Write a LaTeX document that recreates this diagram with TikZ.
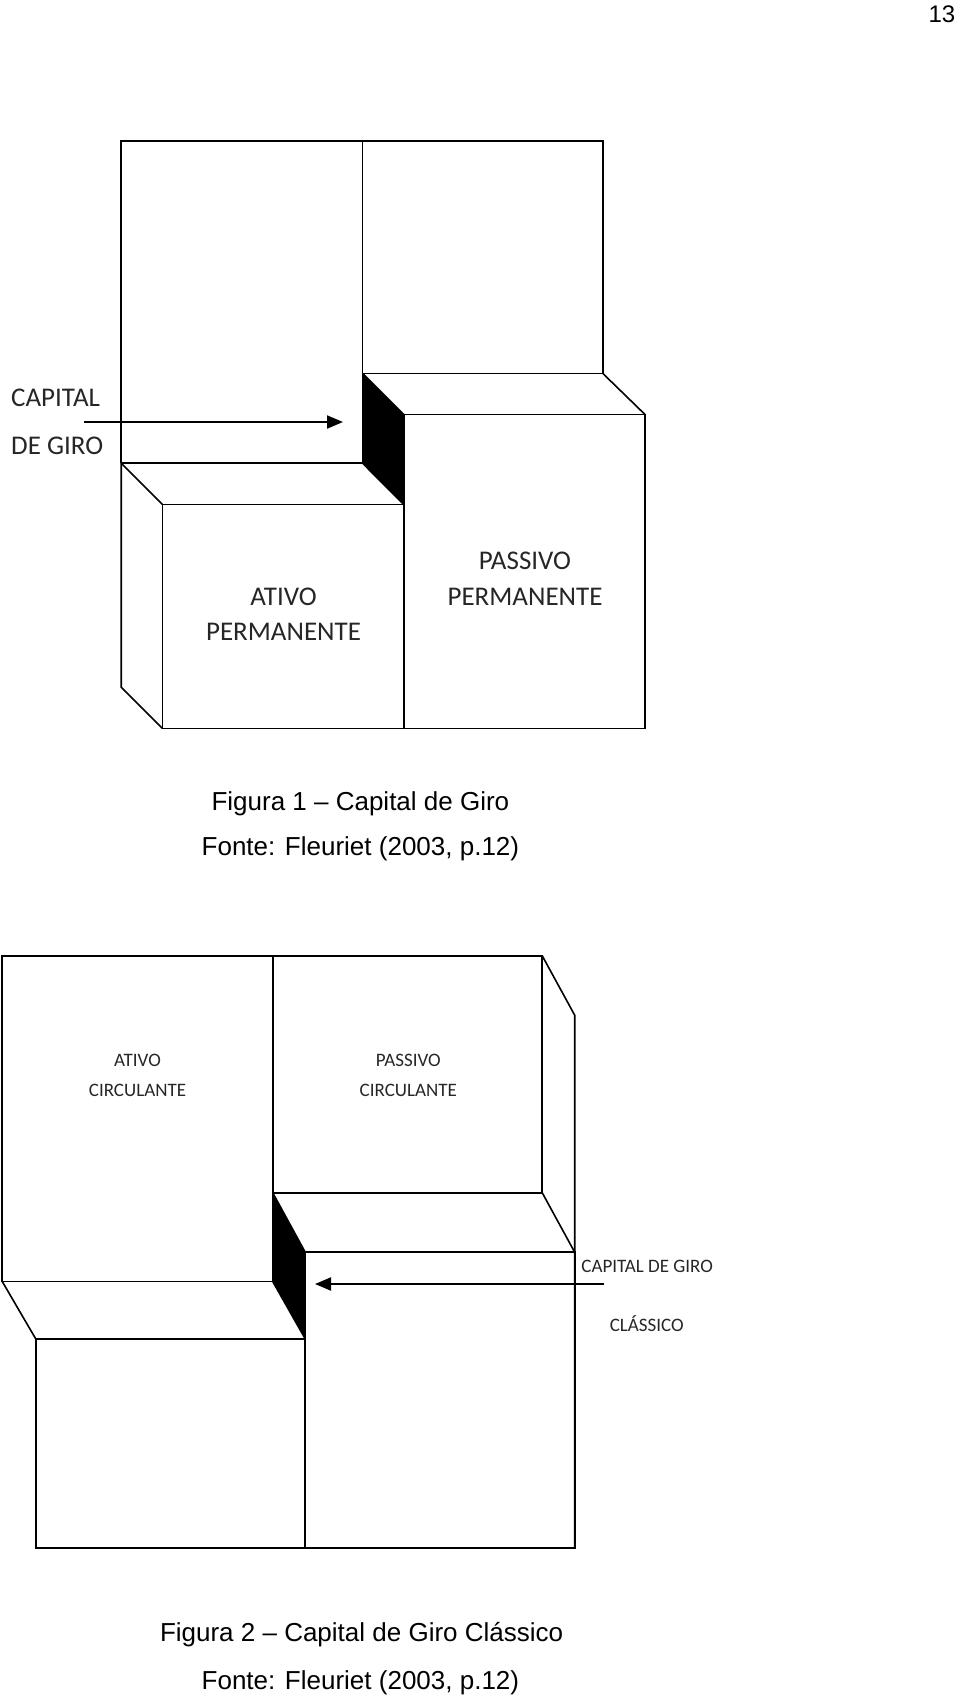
\documentclass[tikz,border=0pt]{standalone}
\usepackage{fontspec}
\setmainfont{Liberation Sans}
\newfontfamily\calib{Carlito}
\usetikzlibrary{arrows.meta}
\begin{document}
\begin{tikzpicture}[x=0.5pt,y=-0.5pt,line join=miter,
  edge/.style={draw=black,line width=0.8pt},
  solid face/.style={fill=black},
  biglbl/.style={font=\calib\fontsize{13.5}{16}\selectfont,text=black!85,inner sep=0,anchor=base},
  smalllbl/.style={font=\calib\fontsize{9.5}{11}\selectfont,text=black!85,inner sep=0,anchor=base},
  captxt/.style={font=\fontsize{13}{16}\selectfont,inner sep=0,anchor=base},
  arr/.style={line width=1pt,-{Triangle[length=8pt,width=6.5pt]}}]
\useasboundingbox (0,0) rectangle (960,1698);

% page number
\node[font=\fontsize{12}{14}\selectfont,inner sep=0,anchor=base east] (pg) at (955.6,22) {13};

% ---------------- Figure 1 ----------------
\fill[solid face] (362.6,373.4) -- (403.7,414.5) -- (403.7,504.4) -- (362.6,463.2) -- cycle;
\draw[edge] (121.2,463.2) -- (121.2,140.7) -- (602.8,140.7) -- (602.8,373.4);
\draw[edge] (362.6,140.7) -- (362.6,463.2);
\draw[edge] (121.2,463.2) -- (362.6,463.2);
\draw[edge] (362.6,373.4) -- (602.8,373.4);
\draw[edge] (362.6,373.4) -- (403.7,414.5);
\draw[edge] (602.8,373.4) -- (645,414.5);
\draw[edge] (403.7,414.5) rectangle (645,728.4);
\draw[edge] (121.2,463.2) -- (162.3,504.4);
\draw[edge] (362.6,463.2) -- (403.7,504.4);
\draw[edge] (162.3,504.4) rectangle (403.7,728.4);
\draw[edge] (121.2,463.2) -- (121.2,687.3) -- (162.3,728.4);

\node[biglbl,anchor=base west] (cap1a) at (10.8,406.7) {CAPITAL};
\node[biglbl,anchor=base west] (cap1b) at (10.8,454.7) {DE GIRO};
\coordinate (a1s) at (84.4,422);
\coordinate (a1e) at (343,422);
\draw[arr] (a1s) -- (a1e);

\node[biglbl] (ap1) at (283.5,605) {ATIVO};
\node[biglbl] (ap2) at (283.5,640.7) {PERMANENTE};
\node[biglbl] (pp1) at (525,569.3) {PASSIVO};
\node[biglbl] (pp2) at (525,605) {PERMANENTE};

\node[captxt] (f1a) at (360.4,810.3) {Figura 1 -- Capital de Giro};
\node[captxt] (f1b) at (360.4,855.7) {Fonte: Fleuriet (2003, p.12)};

% ---------------- Figure 2 ----------------
\fill[solid face] (272.7,1192.7) -- (305.2,1252.2) -- (305.2,1338.8) -- (272.7,1281.4) -- cycle;
\draw[edge] (2.2,955.7) rectangle (272.7,1281.4);
\draw[edge] (272.7,955.7) rectangle (542.2,1192.7);
\draw[edge] (542.2,955.7) -- (574.7,1015.2) -- (574.7,1547.7);
\draw[edge] (272.7,1192.7) -- (305.2,1252.2);
\draw[edge] (542.2,1192.7) -- (574.7,1252.2);
\draw[edge] (305.2,1252.2) rectangle (574.7,1547.7);
\draw[edge] (2.2,1281.4) -- (35.7,1338.8);
\draw[edge] (272.7,1281.4) -- (305.2,1338.8);
\draw[edge] (35.7,1338.8) rectangle (305.2,1547.7);

\node[smalllbl] (ac1) at (137.5,1066.8) {ATIVO};
\node[smalllbl] (ac2) at (137.5,1096) {CIRCULANTE};
\node[smalllbl] (pc1) at (408.3,1066.8) {PASSIVO};
\node[smalllbl] (pc2) at (408.3,1096) {CIRCULANTE};

\node[smalllbl,anchor=base west] (cap2a) at (581,1272.4) {CAPITAL DE GIRO};
\node[smalllbl] (cap2b) at (646.7,1331.9) {CLÁSSICO};
\coordinate (a2s) at (604,1284);
\coordinate (a2e) at (315,1284);
\draw[arr] (a2s) -- (a2e);

\node[captxt] (f2a) at (361.6,1641.3) {Figura 2 -- Capital de Giro Clássico};
\node[captxt] (f2b) at (360.4,1689) {Fonte: Fleuriet (2003, p.12)};
\end{tikzpicture}
\end{document}
